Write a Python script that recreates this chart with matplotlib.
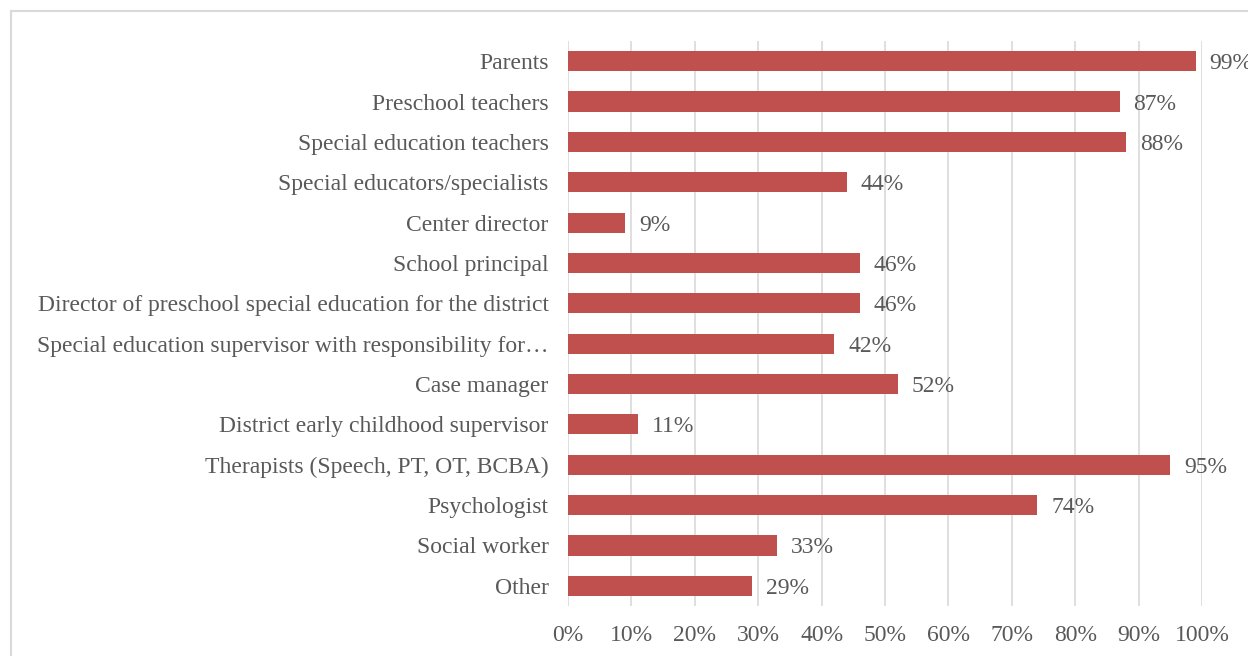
import matplotlib
matplotlib.use('Agg')
import matplotlib.pyplot as plt
from matplotlib.patches import Rectangle
from matplotlib.ticker import FuncFormatter

# categories from top to bottom
roles = ['Parents', 'Preschool teachers', 'Special education teachers',
         'Special educators/specialists', 'Center director', 'School principal',
         'Director of preschool special education for the district',
         'Special education supervisor with responsibility for\u2026',
         'Case manager', 'District early childhood supervisor',
         'Therapists (Speech, PT, OT, BCBA)', 'Psychologist', 'Social worker', 'Other']
percent = [99, 87, 88, 44, 9, 46, 46, 42, 52, 11, 95, 74, 33, 29]
xticks = [0, 10, 20, 30, 40, 50, 60, 70, 80, 90, 100]

plt.rcParams['font.family'] = ['Liberation Serif', 'DejaVu Serif']
txt_color = '#595959'
bar_color = '#C0504D'
fs = 17

fig = plt.figure(figsize=(12.48, 6.56), dpi=100)
ax = fig.add_axes([568/1248, 1-606/656, (1202-568)/1248, (606-41)/656])

# outer frame of the chart area
fig.patches.append(Rectangle((11/1248, -0.1), 1.2, 1.1-11/656, transform=fig.transFigure,
                             fill=False, edgecolor='#D9D9D9', linewidth=1.5))

ypos = list(range(len(roles)))[::-1]
ax.barh(ypos, percent, height=0.5, color=bar_color, zorder=3)
for y, v in zip(ypos, percent):
    ax.text(v + 2.2, y, f'{v}%', va='center_baseline', ha='left', fontsize=fs, color=txt_color)

ax.set_xlim(0, 100)
ax.set_ylim(-0.5, len(roles) - 0.5)
ax.set_xticks(xticks)
ax.xaxis.set_major_formatter(FuncFormatter(lambda v, p: f'{v:.0f}%'))
ax.set_yticks(ypos)
ax.set_yticklabels(roles)
ax.tick_params(axis='both', length=0, labelsize=fs, labelcolor=txt_color)
ax.tick_params(axis='x', pad=14)
ax.tick_params(axis='y', pad=14)
for lbl in ax.get_yticklabels():
    lbl.set_verticalalignment('center_baseline')
ax.grid(axis='x', color='#D9D9D9', linewidth=1.2, zorder=0)
for s in ax.spines.values():
    s.set_visible(False)

fig.savefig('out.png', dpi=100)
